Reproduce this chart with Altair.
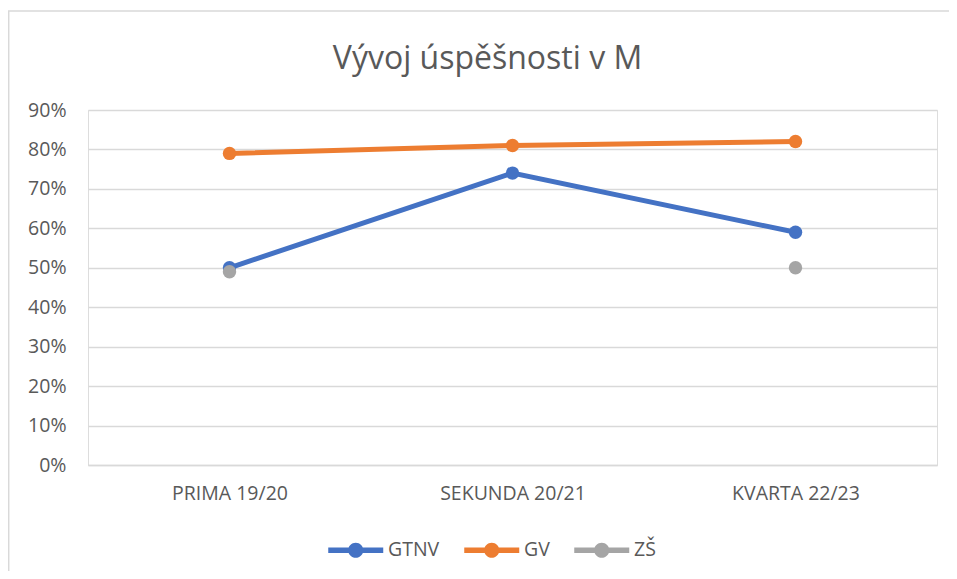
import altair as alt
import pandas as pd

categories = ["PRIMA 19/20", "SEKUNDA 20/21", "KVARTA 22/23"]
series = ["GTNV", "GV", "ZŠ"]
gtnv = [0.50, 0.74, 0.59]
gv = [0.79, 0.81, 0.82]
zs = [0.49, None, 0.50]
colors = ["#4472C4", "#ED7D31", "#A5A5A5"]
y_ticks = [0.0, 0.1, 0.2, 0.3, 0.4, 0.5, 0.6, 0.7, 0.8, 0.9]

rows = []
for name, vals in zip(series, [gtnv, gv, zs]):
    for c, v in zip(categories, vals):
        rows.append({"kat": c, "skupina": name, "hodnota": v})
df = pd.DataFrame(rows)

FONT = "Open Sans"
TXT = "#595959"
GRID = "#d9d9d9"
LBL = 19.5

legend_symbol = "M-1,-0.2 H3 V0.2 H-1 Z M1.55,0 A0.55,0.55 0 1,1 0.45,0 A0.55,0.55 0 1,1 1.55,0 Z"

color = alt.Color(
    "skupina:N",
    sort=series,
    scale=alt.Scale(domain=series, range=colors),
    legend=alt.Legend(
        title=None,
        orient="none",
        direction="horizontal",
        legendX=240,
        legendY=426,
        symbolType=legend_symbol,
        symbolSize=756,
        symbolStrokeWidth=0,
        symbolOpacity=1,
        labelOffset=32,
        columnPadding=24,
        labelFont=FONT,
        labelFontSize=LBL,
        labelColor=TXT,
    ),
)

x = alt.X(
    "kat:N",
    sort=categories,
    title=None,
    axis=alt.Axis(
        labelAngle=0,
        labelFont=FONT,
        labelFontSize=LBL,
        labelColor=TXT,
        labelPadding=19,
        ticks=False,
        domain=True,
        domainColor=GRID,
        domainWidth=1.5,
        grid=False,
    ),
)

y = alt.Y(
    "hodnota:Q",
    title=None,
    scale=alt.Scale(domain=[0, 0.9], nice=False),
    axis=alt.Axis(
        values=y_ticks,
        format=".0%",
        labelFont=FONT,
        labelFontSize=LBL,
        labelColor=TXT,
        labelPadding=22,
        ticks=False,
        domain=False,
        grid=True,
        gridColor=GRID,
        gridWidth=1.5,
    ),
)

base = alt.Chart(df).encode(x=x, y=y, color=color)

lines = base.mark_line(strokeWidth=5, invalid="break-paths-show-domains")
points = base.mark_point(filled=True, size=180, opacity=1)

deco = pd.DataFrame({"a": [0]})
top_rule = alt.Chart(deco).mark_rule(color=GRID, strokeWidth=1.5).encode(
    x=alt.value(-80), x2=alt.value(861), y=alt.value(-99)
)
left_rule = alt.Chart(deco).mark_rule(color=GRID, strokeWidth=1.5).encode(
    x=alt.value(-79.3), y=alt.value(-99), y2=alt.value(461)
)

chart = (
    alt.layer(top_rule, left_rule, lines, points)
    .properties(
        width=849,
        height=355,
        padding={"left": 80, "top": 102, "right": 12, "bottom": 106},
        autosize=alt.AutoSizeParams(type="none"),
        title=alt.TitleParams(
            "Vývoj úspěšnosti v M",
            font=FONT,
            fontSize=32,
            fontWeight="normal",
            color=TXT,
            anchor="middle",
            frame="group",
            dx=-25,
            dy=91,
            offset=0,
            baseline="alphabetic",
        ),
    )
    .configure_view(stroke=None)
    .configure(background="white")
)

chart.save("out.html", embed_options={"renderer": "svg", "actions": False})
